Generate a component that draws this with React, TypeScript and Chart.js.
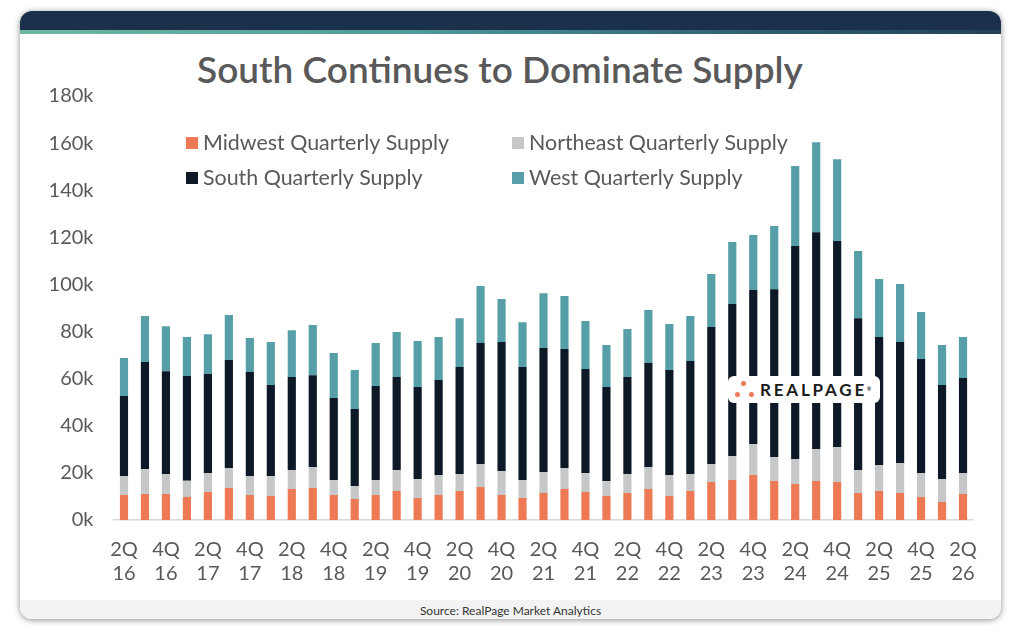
import React, { useEffect, useRef } from "react";
import { Chart, registerables } from "chart.js";

Chart.register(...registerables);

const categories = [
  "2Q 16", "3Q 16", "4Q 16", "1Q 17", "2Q 17", "3Q 17", "4Q 17", "1Q 18", "2Q 18", "3Q 18", "4Q 18",
  "1Q 19", "2Q 19", "3Q 19", "4Q 19", "1Q 20", "2Q 20", "3Q 20", "4Q 20", "1Q 21", "2Q 21", "3Q 21",
  "4Q 21", "1Q 22", "2Q 22", "3Q 22", "4Q 22", "1Q 23", "2Q 23", "3Q 23", "4Q 23", "1Q 24", "2Q 24",
  "3Q 24", "4Q 24", "1Q 25", "2Q 25", "3Q 25", "4Q 25", "1Q 26", "2Q 26",
];

const midwestSupply = [
  10600, 11000, 11000, 9800, 11900, 13600, 10600, 10200, 13200, 13600, 10600,
  8900, 10600, 12300, 9300, 10600, 12300, 14000, 10600, 9300, 11500, 13200,
  11900, 10200, 11500, 13200, 10200, 12300, 16100, 17000, 19100, 16600, 15300,
  16600, 16100, 11500, 12300, 11500, 9800, 7600, 11000,
];

const northeastSupply = [
  8100, 10600, 8500, 6900, 8000, 8500, 8100, 8500, 8000, 8900, 6400,
  5500, 6400, 8900, 8100, 8500, 7200, 9800, 10200, 7700, 8900, 8900,
  8000, 6400, 8000, 9300, 8900, 7200, 7700, 10200, 13200, 10100, 10600,
  13500, 14900, 9700, 11000, 12700, 10100, 9800, 8900,
];

const southSupply = [
  33900, 45500, 43700, 44400, 42100, 45800, 44100, 38600, 39500, 39000, 34800,
  32700, 39900, 39500, 39100, 40300, 45400, 51300, 54800, 47900, 52600, 50500,
  44200, 39900, 41200, 44100, 44600, 48000, 58100, 64500, 65300, 71300, 90400,
  92100, 87400, 64500, 54400, 51400, 48400, 39900, 40400,
];

const westSupply = [
  16200, 19500, 19100, 16600, 16900, 19100, 14500, 18300, 19900, 21300, 19100,
  16600, 18200, 19100, 19500, 18300, 20800, 24200, 18200, 19100, 23300, 22500,
  20400, 17800, 20400, 22500, 19500, 19100, 22500, 26300, 23400, 26800, 34000,
  38200, 34800, 28500, 24600, 24600, 20000, 17000, 17400,
];

const seriesNames = [
  "Midwest Quarterly Supply",
  "Northeast Quarterly Supply",
  "South Quarterly Supply",
  "West Quarterly Supply",
];

const yMax = 180000;
const yStep = 20000;

const COLORS = ["#EE7A55", "#C5C7C9", "#0D1926", "#579FA8"];
const TEXT = "#595959";
const FONT = "Lato, 'Open Sans', sans-serif";

const legendPlugin = {
  id: "customLegend",
  afterDraw(chart: any) {
    const ctx = chart.ctx;
    const pos = [
      { x: 186, y: 143 },
      { x: 512, y: 143 },
      { x: 186, y: 178 },
      { x: 512, y: 178 },
    ];
    ctx.save();
    ctx.font = `21.4px ${FONT}`;
    ctx.textBaseline = "middle";
    ctx.textAlign = "left";
    chart.data.datasets.forEach((ds: any, i: number) => {
      const p = pos[i];
      ctx.fillStyle = ds.backgroundColor;
      ctx.fillRect(p.x, p.y - 6, 12, 12);
      ctx.fillStyle = TEXT;
      ctx.fillText(ds.label, p.x + 17, p.y);
    });
    ctx.restore();
  },
};

export default function App() {
  const canvasRef = useRef<HTMLCanvasElement | null>(null);

  useEffect(() => {
    if (!canvasRef.current) return;
    const data = [midwestSupply, northeastSupply, southSupply, westSupply];
    const chart = new Chart(canvasRef.current, {
      type: "bar",
      data: {
        labels: categories,
        datasets: data.map((d, i) => ({
          label: seriesNames[i],
          data: d,
          backgroundColor: COLORS[i],
          borderWidth: 0,
          categoryPercentage: 1,
          barPercentage: 0.39,
        })),
      },
      options: {
        responsive: false,
        animation: false,
        devicePixelRatio: 1,
        layout: { padding: { left: 0, right: 46.5, top: 96, bottom: 43 } },
        plugins: {
          legend: { display: false },
          tooltip: { enabled: false },
          title: { display: false },
        },
        scales: {
          x: {
            stacked: true,
            grid: { display: false, drawTicks: false },
            border: { display: true, color: "#D9D9D9", width: 1.5 },
            ticks: {
              autoSkip: false,
              maxRotation: 0,
              minRotation: 0,
              padding: 18,
              color: TEXT,
              font: { family: FONT, size: 20, lineHeight: 1.2 },
              callback: (_v: any, i: number) => (i % 2 === 0 ? categories[i].split(" ") : ""),
            },
            afterFit: (s: any) => {
              s.height = 70;
            },
          },
          y: {
            stacked: true,
            min: 0,
            max: yMax,
            grid: { display: false, drawTicks: false },
            border: { display: false },
            ticks: {
              stepSize: yStep,
              padding: 20,
              color: TEXT,
              font: { family: FONT, size: 20 },
              callback: (v: any) => `${Number(v) / 1000}k`,
            },
            afterFit: (s: any) => {
              s.width = 113.5;
            },
          },
        },
      },
      plugins: [legendPlugin],
    });
    return () => chart.destroy();
  }, []);

  return (
    <div
      style={{
        position: "fixed",
        left: 0,
        top: 0,
        width: 1020,
        height: 633,
        background: "#ffffff",
        overflow: "hidden",
        fontFamily: FONT,
      }}
    >
      <div
        style={{
          position: "absolute",
          left: 20,
          top: 11,
          width: 981,
          height: 608,
          borderRadius: 12,
          background: "#ffffff",
          boxShadow: "0 1px 6px rgba(0,0,0,0.45)",
          overflow: "hidden",
        }}
      >
        <div style={{ position: "absolute", left: 0, top: 0, width: "100%", height: 23, background: "#1B304A" }} />
        <div
          style={{
            position: "absolute",
            left: 0,
            top: 19,
            width: "100%",
            height: 4,
            background: "linear-gradient(90deg, #6DB7A2 0%, #4E9A9C 40%, #2E5E72 75%, #22415A 100%)",
          }}
        />
        <div
          style={{
            position: "absolute",
            left: 0,
            bottom: 0,
            width: "100%",
            height: 19,
            background: "#F3F3F3",
            textAlign: "center",
            fontSize: 12,
            lineHeight: "21px",
            color: "#333333",
          }}
        >
          Source: RealPage Market Analytics
        </div>
      </div>
      <div
        style={{
          position: "absolute",
          left: 0,
          top: 46,
          width: 1000,
          textAlign: "center",
          fontSize: 37,
          lineHeight: "46px",
          color: TEXT,
          fontWeight: 600,
        }}
      >
        South Continues to Dominate Supply
      </div>
      <canvas
        ref={canvasRef}
        width={1020}
        height={633}
        style={{ position: "absolute", left: 0, top: 0, width: 1020, height: 633 }}
      />
      <div
        style={{
          position: "absolute",
          left: 728,
          top: 376,
          width: 152,
          height: 27,
          background: "#ffffff",
          borderRadius: 6,
        }}
      >
        <div style={{ position: "absolute", left: 13, top: 5, width: 5, height: 5, borderRadius: "50%", background: "#EE7A55" }} />
        <div style={{ position: "absolute", left: 7, top: 16, width: 5, height: 5, borderRadius: "50%", background: "#EE7A55" }} />
        <div style={{ position: "absolute", left: 21, top: 16, width: 5, height: 5, borderRadius: "50%", background: "#EE7A55" }} />
        <div
          style={{
            position: "absolute",
            left: 32,
            top: 3,
            fontSize: 17,
            lineHeight: "21px",
            fontWeight: 700,
            letterSpacing: 2.8,
            color: "#1A1A1A",
            whiteSpace: "nowrap",
          }}
        >
          REALPAGE
          <span style={{ fontSize: 5, verticalAlign: "top", letterSpacing: 0 }}>®</span>
        </div>
      </div>
    </div>
  );
}
